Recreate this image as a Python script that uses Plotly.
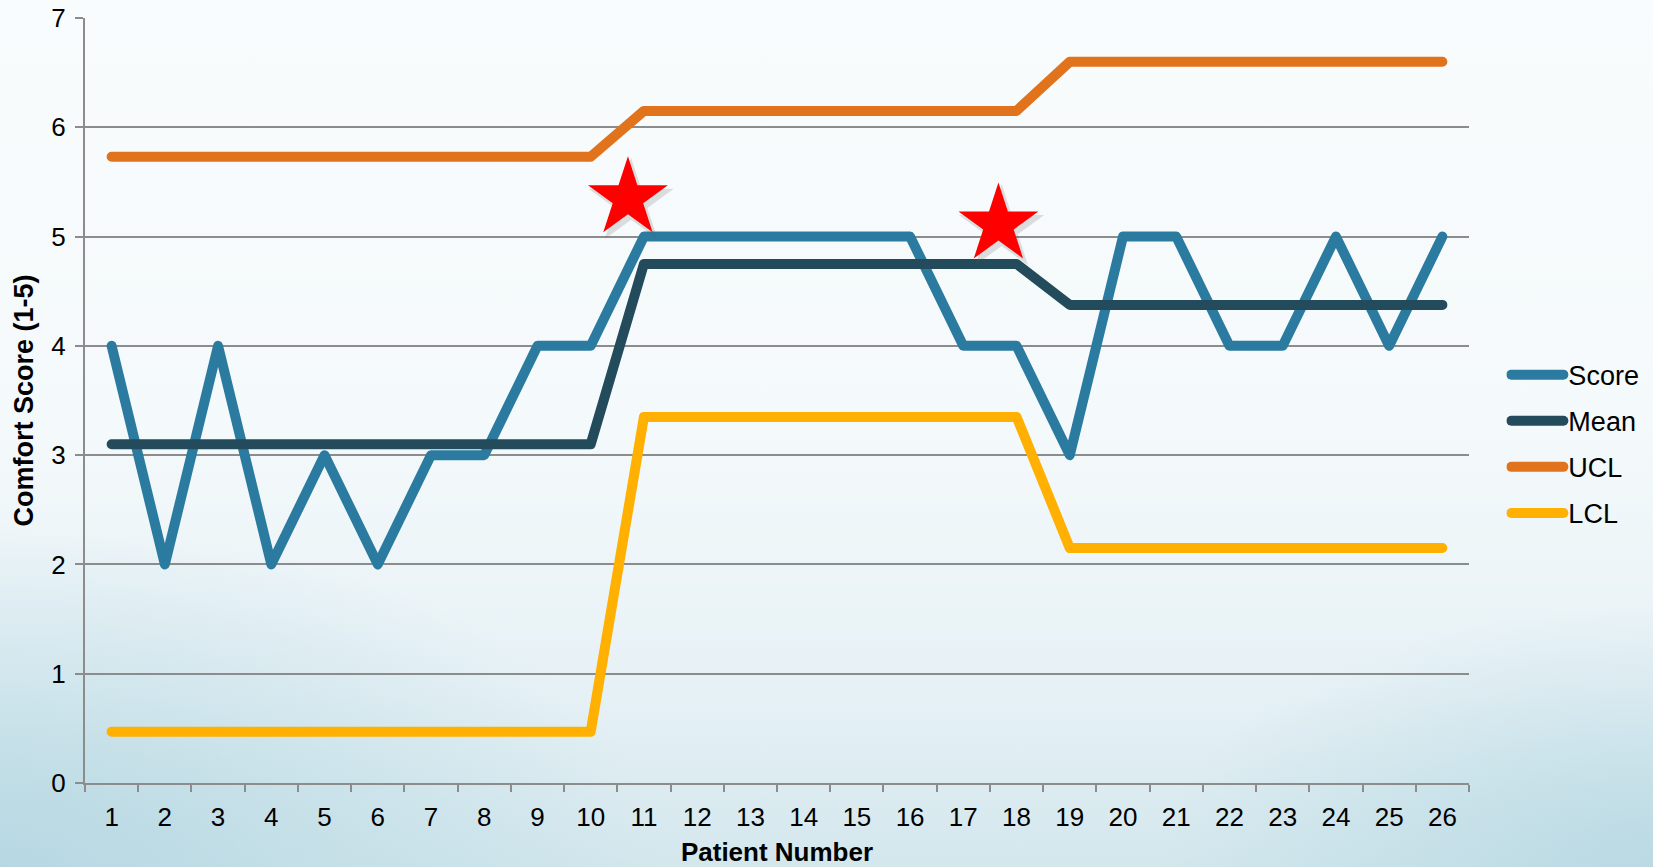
import plotly.graph_objects as go
import base64

patients = list(range(1, 27))
score = [4, 2, 4, 2, 3, 2, 3, 3, 4, 4, 5, 5, 5, 5, 5, 5, 4, 4, 3, 5, 5, 4, 4, 5, 4, 5]
mean = [3.1] * 10 + [4.75] * 8 + [4.375] * 8
ucl = [5.73] * 10 + [6.15] * 8 + [6.6] * 8
lcl = [0.47] * 10 + [3.35] * 8 + [2.15] * 8
star_x = [10.7, 17.66]
star_y = [5.35, 5.11]

series = [
    ("Score", score, "#2B7BA0"),
    ("Mean", mean, "#234B5B"),
    ("UCL", ucl, "#E1731C"),
    ("LCL", lcl, "#FFB000"),
]

FONT = "Liberation Sans, Arial, sans-serif"
GRID = "#8C8C8C"

fig = go.Figure()
for name, vals, col in series:
    fig.add_trace(go.Scatter(
        x=patients, y=vals, name=name, mode="lines",
        line=dict(color=col, width=10),
        legendgroup=name,
    ))

# soft shadow behind stars
fig.add_trace(go.Scatter(
    x=[v + 0.06 for v in star_x], y=[v - 0.04 for v in star_y],
    mode="markers", showlegend=False,
    marker=dict(symbol="star", size=64, color="rgba(90,90,90,0.18)", line=dict(width=0)),
    hoverinfo="skip",
))
fig.add_trace(go.Scatter(
    x=star_x, y=star_y, mode="markers", showlegend=False,
    marker=dict(symbol="star", size=60, color="#FF0000", line=dict(width=0)),
    hoverinfo="skip",
))

svg = """<svg xmlns='http://www.w3.org/2000/svg' width='1653' height='867' preserveAspectRatio='none'>
<defs>
<linearGradient id='g' x1='0' y1='0' x2='0' y2='1'>
<stop offset='0' stop-color='#F9FCFD'/>
<stop offset='0.5' stop-color='#F4F9FB'/>
<stop offset='0.8' stop-color='#E6F1F5'/>
<stop offset='1' stop-color='#D3E7ED'/>
</linearGradient>
<radialGradient id='bl' cx='0' cy='1' r='0.4'>
<stop offset='0' stop-color='#B5D7E2' stop-opacity='0.95'/>
<stop offset='1' stop-color='#B5D7E2' stop-opacity='0'/>
</radialGradient>
<radialGradient id='br' cx='1' cy='1' r='0.3'>
<stop offset='0' stop-color='#B5D7E2' stop-opacity='0.85'/>
<stop offset='1' stop-color='#B5D7E2' stop-opacity='0'/>
</radialGradient>
</defs>
<rect width='1653' height='867' fill='url(#g)'/>
<rect width='1653' height='867' fill='url(#bl)'/>
<rect width='1653' height='867' fill='url(#br)'/>
</svg>"""
uri = "data:image/svg+xml;base64," + base64.b64encode(svg.encode()).decode()

W, H = 1653, 867
ml, mr, mt, mb = 85, 184, 18, 84
pw, ph = W - ml - mr, H - mt - mb

fig.add_layout_image(dict(
    source=uri, xref="paper", yref="paper",
    x=-ml / pw, y=1 + mt / ph, sizex=W / pw, sizey=H / ph,
    xanchor="left", yanchor="top", sizing="stretch", layer="below",
))

fig.update_layout(
    width=W, height=H,
    margin=dict(l=ml, r=mr, t=mt, b=mb, autoexpand=False),
    paper_bgcolor="#F7FBFC",
    plot_bgcolor="rgba(0,0,0,0)",
    font=dict(family=FONT, size=26, color="#000000"),
    showlegend=True,
    legend=dict(
        x=1.027, y=0.443, xanchor="left", yanchor="middle",
        bgcolor="rgba(0,0,0,0)", font=dict(size=27, family=FONT),
        tracegroupgap=8, itemwidth=52,
    ),
    xaxis=dict(
        range=[0.5, 26.5], tickmode="array", tickvals=patients,
        ticktext=[str(p) for p in patients],
        ticks="outside", ticklen=10, tickcolor="rgba(0,0,0,0)",
        showgrid=False, zeroline=False, automargin=False,
        showline=True, linecolor=GRID, linewidth=2,
        tickfont=dict(size=26, family=FONT),
        title=dict(text="<b>Patient Number</b>", font=dict(size=26, family=FONT), standoff=12),
        minor=dict(tick0=0.5, dtick=1, ticks="outside", ticklen=7, tickwidth=2, tickcolor=GRID, showgrid=False),
    ),
    yaxis=dict(
        range=[0, 7], dtick=1, tick0=0,
        showgrid=True, gridcolor=GRID, gridwidth=2,
        ticks="outside", ticklen=8, tickwidth=2, tickcolor=GRID,
        ticklabelstandoff=4, automargin=False,
        zeroline=False, showline=True, linecolor=GRID, linewidth=2,
        tickfont=dict(size=26, family=FONT),
        title=dict(text="<b>Comfort Score (1-5)</b>", font=dict(size=27, family=FONT), standoff=10),
    ),
)

post = """
document.documentElement.style.margin='0';
document.documentElement.style.padding='0';
document.body.style.margin='0';
document.body.style.padding='0';
document.body.style.overflow='hidden';
document.querySelectorAll('.js-line').forEach(function(p){
  p.style.strokeLinejoin='round'; p.style.strokeLinecap='round';
});
"""
fig.write_html("out.html", post_script=post, config={"displayModeBar": False})
